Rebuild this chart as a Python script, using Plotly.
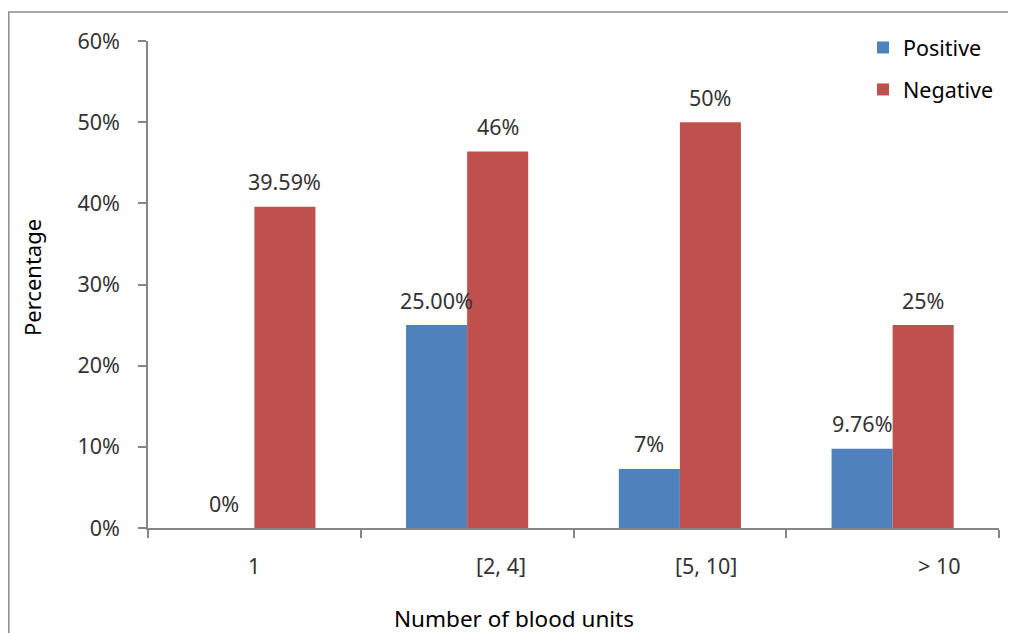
import plotly.graph_objects as go

# ---- data ----
categories = ["1", "[2, 4]", "[5, 10]", "> 10"]
positive = [0, 25.0, 7.27, 9.76]
negative = [39.59, 46.4, 50.0, 25.0]
positive_labels = ["0%", "25.00%", "7%", "9.76%"]
negative_labels = ["39.59%", "46%", "50%", "25%"]
y_ticks = [0, 10, 20, 30, 40, 50, 60]
y_tick_labels = ["0%", "10%", "20%", "30%", "40%", "50%", "60%"]

# ---- layout constants (screen pixels; page body has an 8px margin) ----
OFF = 8
W, H = 1016 - OFF, 633 - OFF
PLOT_X0, PLOT_X1, PLOT_Y0, PLOT_Y1 = 148, 999, 41, 528  # screen coords
L = PLOT_X0 - OFF
R = W - (PLOT_X1 - OFF)
T = PLOT_Y0 - OFF
B = H - (PLOT_Y1 - OFF)
PW, PH = PLOT_X1 - PLOT_X0, PLOT_Y1 - PLOT_Y0

def px_x(px):
    return (px - PLOT_X0) / PW

def px_y(py):
    return (PLOT_Y1 - py) / PH

FONT = "Noto Sans"
BLUE = "#4F81BD"
RED = "#C0504D"
AXIS = "#868686"
TXT = "#333333"
FS = 21.5

fig = go.Figure()
fig.add_trace(go.Bar(name="Positive", x=categories, y=positive,
                     marker=dict(color=BLUE, line=dict(width=0)),
                     legendgroup="pos"))
fig.add_trace(go.Bar(name="Negative", x=categories, y=negative,
                     marker=dict(color=RED, line=dict(width=0)),
                     legendgroup="neg"))

annotations = []
# data labels
bar_half = PW / len(categories) * (1 - 0.426) / 4
for series, labels, sign in ((positive, positive_labels, -1), (negative, negative_labels, 1)):
    for i, (v, t) in enumerate(zip(series, labels)):
        annotations.append(dict(x=i, y=v, xref="x", yref="y", text=t, showarrow=False,
                                xshift=sign * bar_half, yshift=25, yanchor="middle",
                                font=dict(family=FONT, size=FS, color=TXT)))
# category labels (offset as in reference)
label_shift = [0, 34, 26, 46]
for i, (c, s) in enumerate(zip(categories, label_shift)):
    annotations.append(dict(x=i, y=px_y(565), xref="x", yref="paper", text=c,
                            showarrow=False, xshift=s, yanchor="middle",
                            font=dict(family=FONT, size=FS, color=TXT)))
# axis titles
annotations.append(dict(x=px_x(514), y=px_y(618), xref="paper", yref="paper",
                        text="Number of blood units", showarrow=False, yanchor="middle",
                        font=dict(family=FONT, size=22.5, color="#000000")))
annotations.append(dict(x=px_x(32), y=px_y(278), xref="paper", yref="paper",
                        text="Percentage", showarrow=False, textangle=-90,
                        xanchor="center", yanchor="middle",
                        font=dict(family=FONT, size=22, color="#000000")))

fig.update_layout(
    width=W, height=H, autosize=False,
    margin=dict(l=L, r=R, t=T, b=B, autoexpand=False),
    paper_bgcolor="white", plot_bgcolor="white",
    barmode="group", bargap=0.426, bargroupgap=0,
    font=dict(family=FONT, size=FS, color=TXT),
    showlegend=True,
    legend=dict(x=px_x(863), y=px_y(27), xanchor="left", yanchor="top",
                traceorder="grouped", tracegroupgap=11,
                bgcolor="rgba(0,0,0,0)",
                font=dict(family=FONT, size=FS, color="#000000")),
    xaxis=dict(type="category", showline=True, linecolor=AXIS, linewidth=1.5,
               ticks="outside", tickson="boundaries", ticklen=8, tickcolor=AXIS,
               tickwidth=1.5, showticklabels=False, showgrid=False, zeroline=False,
               automargin=False),
    yaxis=dict(range=[0, 60], tickmode="array", tickvals=y_ticks, ticktext=y_tick_labels,
               showline=True, automargin=False,
               linecolor=AXIS, linewidth=1.5, ticks="outside", ticklen=8,
               tickcolor=AXIS, tickwidth=1.5, showgrid=False, zeroline=False,
               ticklabelstandoff=14, tickfont=dict(family=FONT, size=FS, color=TXT)),
    annotations=annotations,
    shapes=[dict(type="rect", xref="paper", yref="paper",
                 x0=px_x(OFF + 0.8), x1=px_x(1040), y0=px_y(660), y1=px_y(12),
                 line=dict(color="#8c8c8c", width=1.5), fillcolor="rgba(0,0,0,0)",
                 layer="below")],
)

fig.write_html("out.html")
